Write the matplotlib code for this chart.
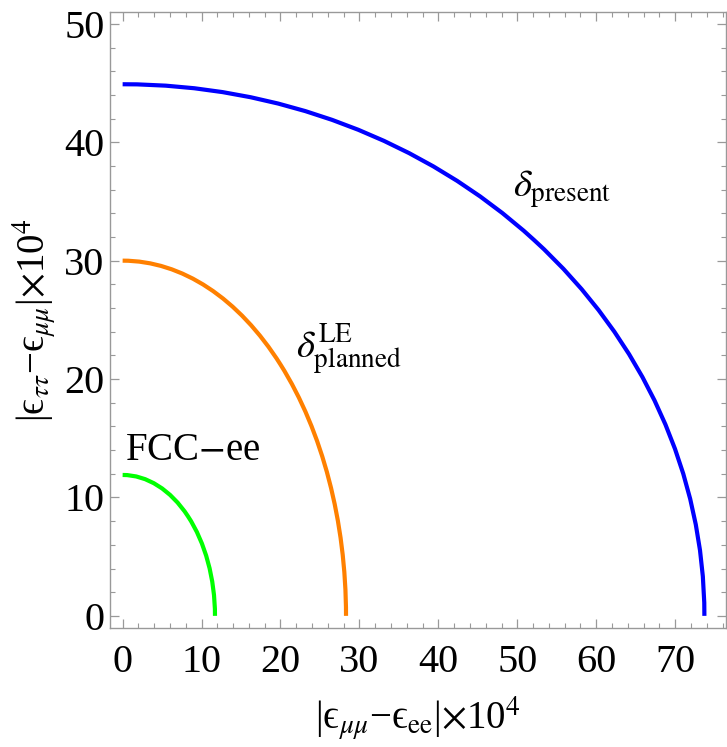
import matplotlib
matplotlib.use("Agg")
import matplotlib.pyplot as plt
from matplotlib.patches import Arc
from matplotlib.ticker import MultipleLocator

plt.rcParams['font.family'] = ['Liberation Serif', 'DejaVu Serif']
plt.rcParams['mathtext.fontset'] = 'stix'

# Semi-axes of the quarter ellipses (x-intercept, y-intercept)
curve_names = ["present", "planned", "FCC-ee"]
x_semi = [73.7, 28.3, 11.7]
y_semi = [44.9, 30.0, 11.9]
colors = ["#0000FF", "#FF8000", "#00FF00"]

labels = [r"$\delta_{\mathrm{present}}$", r"$\delta_{\mathrm{planned}}^{\mathrm{LE}}$", "FCC$-$ee"]
label_x = [49.5, 22.0, 0.3]
label_y = [36.0, 22.5, 14.0]

xticks = [0, 10, 20, 30, 40, 50, 60, 70]
yticks = [0, 10, 20, 30, 40, 50]

fig = plt.figure(figsize=(7.27, 7.47), dpi=100)
ax = fig.add_axes([0.1513, 0.1597, 0.8480, 0.8242])

for a, b, c in zip(x_semi, y_semi, colors):
    ax.add_patch(Arc((0, 0), 2 * a, 2 * b, theta1=0, theta2=90, color=c, lw=3.0))

for t, lx, ly in zip(labels, label_x, label_y):
    ax.text(lx, ly, t, fontsize=28, va='center', ha='left')

ax.set_xlim(-1.6, 76.5)
ax.set_ylim(-1.0, 51.0)
ax.set_xticks(xticks)
ax.set_yticks(yticks)
ax.xaxis.set_minor_locator(MultipleLocator(2))
ax.yaxis.set_minor_locator(MultipleLocator(2))

gray = "#999999"
for s in ax.spines.values():
    s.set_color(gray)
    s.set_linewidth(1.0)
ax.tick_params(which='both', direction='in', colors=gray, labelcolor='black',
               top=True, right=True, labelsize=29)
ax.tick_params(which='major', length=6.5, width=0.9)
ax.tick_params(which='minor', length=3.5, width=0.8)
ax.tick_params(axis='x', which='major', pad=12)
ax.tick_params(axis='y', which='major', pad=4)

eps = "\u03f5"
ax.set_xlabel("|" + eps + r"$_{\mu\mu}$" + "\u2212" + eps + r"$_{\mathrm{ee}}$" + r"|$\times$10$^4$",
              fontsize=28, labelpad=10)
ax.set_ylabel("|" + eps + r"$_{\tau\tau}$" + "\u2212" + eps + r"$_{\mu\mu}$" + r"|$\times$10$^4$",
              fontsize=28, labelpad=4)

fig.savefig("out.png", dpi=100)
